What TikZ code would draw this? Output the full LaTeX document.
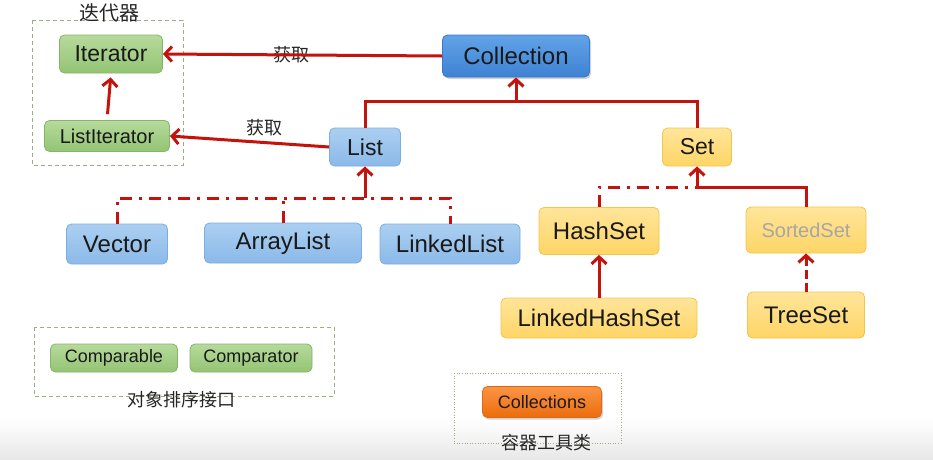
\documentclass[tikz,border=0pt]{standalone}
\usepackage{fontspec}
\setmainfont{Liberation Sans}
\newfontfamily\cjk{Noto Sans CJK SC}
\usetikzlibrary{arrows.meta,shadows}
\definecolor{arr}{HTML}{C4120C}
\definecolor{gB}{HTML}{86B565}\definecolor{gT}{HTML}{B6DA9C}\definecolor{gD}{HTML}{93C474}
\definecolor{bB}{HTML}{7AAEE0}\definecolor{bT}{HTML}{ABCFF1}\definecolor{bD}{HTML}{8BB9E8}
\definecolor{cB}{HTML}{3A78C8}\definecolor{cT}{HTML}{62A3E8}\definecolor{cD}{HTML}{3E82D2}
\definecolor{yB}{HTML}{F5C44A}\definecolor{yT}{HTML}{FFE59A}\definecolor{yD}{HTML}{FED566}
\definecolor{oB}{HTML}{E06A10}\definecolor{oT}{HTML}{FA9545}\definecolor{oD}{HTML}{EC6C0C}
\definecolor{frame}{HTML}{9CAE84}
\newcommand\fsz[1]{\fontsize{#1}{#1}\selectfont}
\begin{document}
\begin{tikzpicture}[x=1pt,y=-1pt,
  box/.style={draw, rounded corners=5pt, line width=0.8pt, inner sep=0pt, text=black!90},
  gbox/.style={box, draw=gB, top color=gT, bottom color=gD},
  bbox/.style={box, draw=bB, top color=bT, bottom color=bD},
  cbox/.style={box, draw=cB, top color=cT, bottom color=cD, drop shadow={opacity=0.35, shadow xshift=1.5pt, shadow yshift=-2pt}},
  ybox/.style={box, draw=yB, top color=yT, bottom color=yD},
  obox/.style={box, draw=oB, top color=oT, bottom color=oD, drop shadow={opacity=0.35, shadow xshift=1.5pt, shadow yshift=-2pt}},
  link/.style={draw=arr, line width=3pt},
  arrow/.style={link, -{Straight Barb[length=7pt,width=15pt]}},
  dd/.style={dash pattern=on 12pt off 7pt on 3pt off 7pt},
  frm/.style={draw=frame, line width=0.8pt, dash pattern=on 4pt off 3pt},
  lbl/.style={font=\cjk\fsz{18}, text=black!85, inner sep=0pt}]
\useasboundingbox (0,0) rectangle (933,459);
\fill[white] (0,0) rectangle (933,459);
\fill[top color=white, bottom color=black!9] (0,418) rectangle (933,459);

% frames
\draw[frm] (32,20) rectangle (183,165);
\draw[frm] (34,327) rectangle (334,396);
\draw[draw=frame, line width=0.6pt, dotted] (454,373) rectangle (621,443);

% nodes
\node[gbox, minimum width=103pt, minimum height=38pt, font=\fsz{23}] (Iterator) at (111,54) {Iterator};
\node[gbox, minimum width=125pt, minimum height=31pt, font=\fsz{20}] (ListIterator) at (107,136) {ListIterator};
\node[cbox, minimum width=147pt, minimum height=42pt, font=\fsz{24}] (Collection) at (516,56) {Collection};
\node[bbox, minimum width=71pt, minimum height=38pt, font=\fsz{23}] (List) at (365,147) {List};
\node[ybox, minimum width=69pt, minimum height=38pt, font=\fsz{23}] (Set) at (697,147) {Set};
\node[bbox, minimum width=101pt, minimum height=40pt, font=\fsz{24}] (Vector) at (117,244) {Vector};
\node[bbox, minimum width=157pt, minimum height=40pt, font=\fsz{24}] (ArrayList) at (283,243) {ArrayList};
\node[bbox, minimum width=140pt, minimum height=40pt, font=\fsz{24}] (LinkedList) at (450,244) {LinkedList};
\node[ybox, minimum width=120pt, minimum height=47pt, font=\fsz{24}] (HashSet) at (599,231) {HashSet};
\node[ybox, minimum width=120pt, minimum height=46pt, font=\fsz{20}, text=black!35] (SortedSet) at (806,230) {SortedSet};
\node[ybox, minimum width=196pt, minimum height=40pt, font=\fsz{24}] (LinkedHashSet) at (599,318) {LinkedHashSet};
\node[ybox, minimum width=117pt, minimum height=46pt, font=\fsz{24}] (TreeSet) at (806,315) {TreeSet};
\node[gbox, minimum width=127pt, minimum height=28pt, font=\fsz{18}] (Comparable) at (114,358) {Comparable};
\node[gbox, minimum width=122pt, minimum height=28pt, font=\fsz{18}] (Comparator) at (251,358) {Comparator};
\node[obox, minimum width=119pt, minimum height=31pt, font=\fsz{18}] (Collections) at (542,402) {Collections};

% labels
\node[lbl, font=\cjk\fsz{20}] (tIter) at (109,13) {迭代器};
\node[lbl] (tGet1) at (291,55) {获取};
\node[lbl] (tGet2) at (264,128) {获取};
\node[lbl] (tSort) at (181,400) {对象排序接口};
\node[lbl] (tTool) at (546,443) {容器工具类};

% coordinates
\coordinate (cj) at (516,101);
\coordinate (lj) at (365,198);
\coordinate (sj) at (697,187);

% connectors
\draw[arrow] (Collection.west) -- (Iterator.east);
\draw[arrow] (List.west) -- (ListIterator.east);
\draw[arrow, shorten <=6pt, shorten >=4pt] (ListIterator.north) -- (Iterator.south);

\draw[link] (List.north) |- (cj) -| (Set.north);
\draw[arrow] (cj) -- (Collection.south);

\draw[link, dd] (Vector.north) -- (Vector.north |- lj) -- (LinkedList.north |- lj) -- (LinkedList.north);
\draw[link, dd] (ArrayList.north) -- (ArrayList.north |- lj);
\draw[arrow] (lj) -- (List.south);

\draw[link, dd] (HashSet.north) -- (HashSet.north |- sj) -- (sj);
\draw[link] (SortedSet.north) -- (SortedSet.north |- sj) -- (sj);
\draw[arrow] (sj) -- (Set.south);

\draw[arrow] (LinkedHashSet.north) -- (HashSet.south);
\draw[arrow, dash pattern=on 9pt off 4pt] (TreeSet.north) -- (SortedSet.south);
\end{tikzpicture}
\end{document}
